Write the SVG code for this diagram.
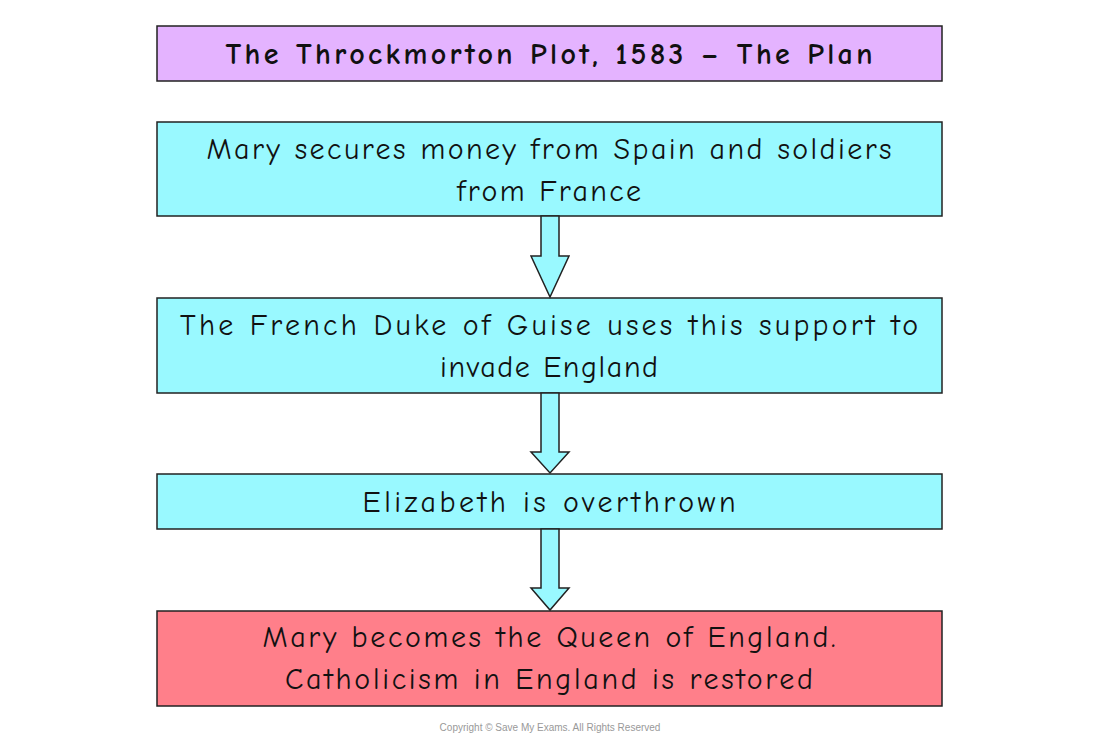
<svg xmlns="http://www.w3.org/2000/svg" width="1100" height="746" viewBox="0 0 1100 746">
<style>
.box{stroke:#222;stroke-width:1.5}
.t{font-family:"Comic Neue","Liberation Sans",sans-serif;font-size:30px;fill:#111;text-anchor:middle;letter-spacing:2px}
.arr{fill:#99f9ff;stroke:#222;stroke-width:1.5;stroke-linejoin:miter}
</style>
<rect width="1100" height="746" fill="#fff"/>
<g id="n1"><rect class="box" x="157" y="26" width="785" height="55" fill="#e4b3ff"/><text class="t" x="550" y="64" font-weight="bold" textLength="649" lengthAdjust="spacing">The Throckmorton Plot, 1583 – The Plan</text></g>
<g id="n2"><rect class="box" x="157" y="122" width="785" height="94" fill="#99f9ff"/><text class="t" x="550" y="159" textLength="687" lengthAdjust="spacing">Mary secures money from Spain and soldiers</text><text class="t" x="550" y="201" textLength="186" lengthAdjust="spacing">from France</text></g>
<g id="n3"><rect class="box" x="157" y="298" width="785" height="95" fill="#99f9ff"/><text class="t" x="550" y="335" textLength="740" lengthAdjust="spacing">The French Duke of Guise uses this support to</text><text class="t" x="550" y="377" textLength="220" lengthAdjust="spacing">invade England</text></g>
<g id="n4"><rect class="box" x="157" y="474" width="785" height="55" fill="#99f9ff"/><text class="t" x="550" y="512" textLength="375" lengthAdjust="spacing">Elizabeth is overthrown</text></g>
<g id="n5"><rect class="box" x="157" y="611" width="785" height="95" fill="#ff7f8a"/><text class="t" x="550" y="647" textLength="575" lengthAdjust="spacing">Mary becomes the Queen of England.</text><text class="t" x="550" y="689" textLength="530" lengthAdjust="spacing">Catholicism in England is restored</text></g>
<g id="connectors">
<path class="arr" d="M541 216 V256 H531 L550 297 L569 256 H559 V216 Z"/>
<path class="arr" d="M541 393 V452 H531 L550 473 L569 452 H559 V393 Z"/>
<path class="arr" d="M541 529 V588 H531 L550 610 L569 588 H559 V529 Z"/>
</g>
<text x="550" y="731" font-family="Liberation Sans,sans-serif" font-size="10" fill="#999" text-anchor="middle">Copyright © Save My Exams. All Rights Reserved</text>
</svg>
